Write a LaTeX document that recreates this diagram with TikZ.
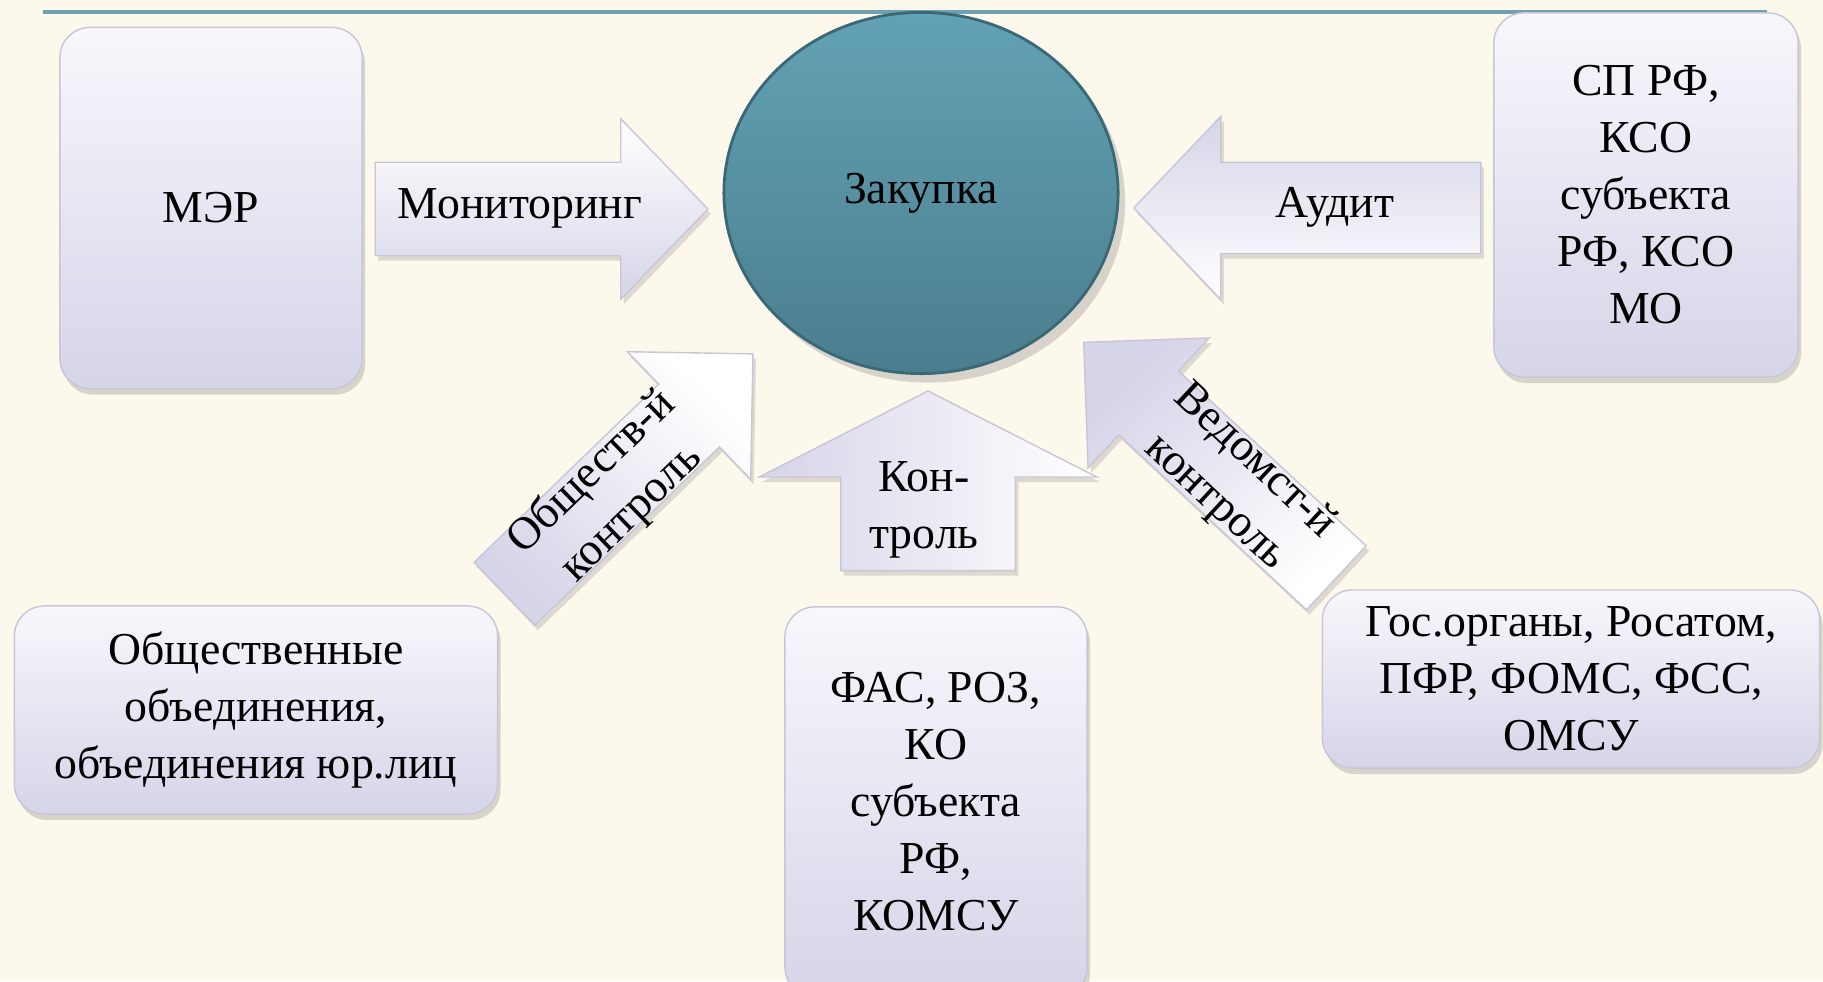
\documentclass[tikz,border=0pt]{standalone}
\usepackage{fontspec}
\setmainfont{Liberation Serif}
\usepackage{tikz}
\usetikzlibrary{shapes.arrows, shapes.geometric, shadows}

\definecolor{paper}{RGB}{253,248,236}
\definecolor{rulecol}{RGB}{112,160,174}
\definecolor{cardtop}{RGB}{248,247,252}
\definecolor{cardbot}{RGB}{214,212,232}
\definecolor{cardedge}{RGB}{200,198,214}
\definecolor{balltop}{RGB}{98,162,180}
\definecolor{ballbot}{RGB}{74,126,142}
\definecolor{balledge}{RGB}{58,104,118}

\begin{document}
\begin{tikzpicture}[
    x=0.01cm, y=-0.01cm,
    every node/.style={align=center, font=\fontsize{13}{16.2}\selectfont},
    card/.style={rectangle, rounded corners=0.3cm, top color=cardtop, bottom color=cardbot, draw=cardedge, line width=0.4pt,
        drop shadow={opacity=0.3, shadow xshift=0.03cm, shadow yshift=-0.06cm}},
    fatarrow/.style={single arrow, inner xsep=0pt, top color=white, bottom color=cardbot, draw=cardedge, line width=0.4pt,
        drop shadow={opacity=0.25, shadow xshift=0.03cm, shadow yshift=-0.05cm}},
    ball/.style={ellipse, top color=balltop, bottom color=ballbot, draw=balledge, line width=0.8pt,
        drop shadow={opacity=0.3, shadow xshift=0.07cm, shadow yshift=-0.09cm}}
]
\clip (0,0) rectangle (1823,981);
\fill[paper] (0,0) rectangle (1823,981);
\draw[rulecol, line width=1.2pt] (43,12) -- (1767,12);

% source boxes
\node[card, minimum width=3.02cm, minimum height=3.61cm] (mer) at (211,208) {МЭР};
\node[card, minimum width=3.04cm, minimum height=3.64cm] (sp) at (1646,195) {СП РФ,\\КСО\\субъекта\\РФ, КСО\\МО};
\node[card, minimum width=4.83cm, minimum height=2.08cm] (pub) at (256,710) {Общественные\\объединения,\\объединения юр.лиц};
\node[card, minimum width=3.02cm, minimum height=3.9cm] (fas) at (936,802) {ФАС, РОЗ,\\КО\\субъекта\\РФ,\\КОМСУ};
\node[card, minimum width=4.97cm, minimum height=1.78cm] (gov) at (1571,679) {Гос.органы, Росатом,\\ПФР, ФОМС, ФСС,\\ОМСУ};

% block arrows
\node[fatarrow, inner xsep=1.43cm, inner ysep=0.46cm, single arrow head extend=0.435cm, single arrow tip angle=92] (mon) at (519,209) {};
\node[fatarrow, rotate=180, shading angle=180, inner xsep=1.51cm, inner ysep=0.45cm, single arrow head extend=0.46cm, single arrow tip angle=93] (aud) at (1329,208) {};
\node[fatarrow, rotate=44, shading angle=-44, inner xsep=1.5cm, inner ysep=0.43cm, single arrow head extend=0.45cm, single arrow tip angle=90] (obs) at (613,489) {};
\node[fatarrow, rotate=137, shading angle=-137, inner xsep=1.5cm, inner ysep=0.43cm, single arrow head extend=0.45cm, single arrow tip angle=90] (ved) at (1226,475) {};
\node[fatarrow, rotate=90, shading angle=-90, inner xsep=0.668cm, inner ysep=0.865cm, single arrow head extend=0.815cm, single arrow tip angle=126] (ctl) at (928,503) {};

\node (montxt) at (520,208) {Мониторинг};
\node (audtxt) at (1335,207) {Аудит};
\node[rotate=44] (obstxt) at (612,493) {Обществ-й\\контроль};
\node[rotate=-43] (vedtxt) at (1235,482) {Ведомст-й\\контроль};
\node (ctltxt) at (924,510) {Кон-\\троль};

% centre
\node[ball, minimum width=3.94cm, minimum height=3.61cm] (buy) at (921,193) {Закупка};

\end{tikzpicture}
\end{document}
